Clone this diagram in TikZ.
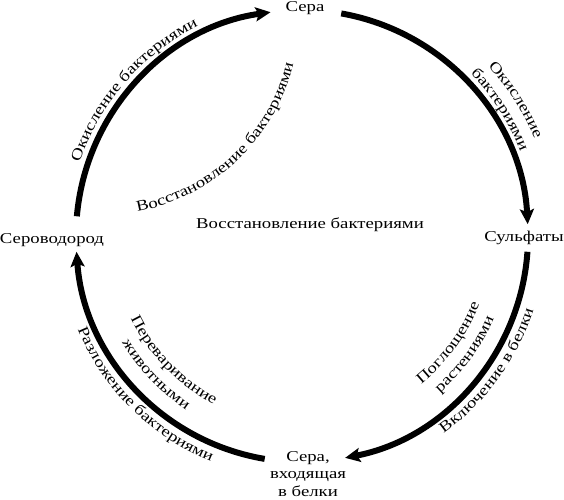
\documentclass[tikz,border=0pt]{standalone}
\usepackage{fontspec}
\setmainfont{Liberation Serif}[FakeStretch=1.25]
\usetikzlibrary{arrows.meta, decorations.text}
\newcommand\lblfont{\fontsize{15}{17.5}\selectfont}

\begin{document}
\begin{tikzpicture}[x=1pt, y=1pt,
    cyc/.style={line width=6pt, -{Stealth[length=15pt, width=14pt, inset=3pt]}},
    lbl/.style={font=\lblfont, inner sep=0pt, align=center},
    ontext/.style={decorate, decoration={text along path, text align=center, text={|\lblfont|#1}}}]
\useasboundingbox (-302,-263) rectangle (262,236);
% Compounds
\node[lbl] (sera) at (3,228) {Сера};
\node[lbl] (sulf) at (222,-2) {Сульфаты};
\node[lbl] (hs) at (-250,-4) {Сероводород};
\node[lbl] (belki) at (6,-238) {Сера,\\входящая\\в белки};
\node[lbl] (vosst) at (8,11) {Восстановление бактериями};
% Ends of the arcs
\coordinate (hsout) at (175:226);
\coordinate (seraout) at (80:226);
\coordinate (sulfout) at (-4:226);
\coordinate (belkiout) at (260.5:226);
\coordinate (vc) at (-201,219);
% Cycle arrows
\draw[cyc] (hsout) arc[start angle=175, end angle=98, radius=226];
\draw[cyc] (seraout) arc[start angle=80, end angle=3, radius=226];
\draw[cyc] (sulfout) arc[start angle=-4, end angle=-79, radius=226];
\draw[cyc] (belkiout) arc[start angle=260.5, end angle=184, radius=226];
% Labels on the arrows
\path[ontext={Окисление бактериями}] (179:234) arc[start angle=179, end angle=99, radius=234];
\path[ontext={бактериями}] (72.5:234) arc[start angle=72.5, end angle=-7.5, radius=234];
\path[ontext={Окисление}] (72.5:252) arc[start angle=72.5, end angle=-7.5, radius=252];
\path[ontext={Поглощение}] (-76:190) arc[start angle=-76, end angle=4, radius=190];
\path[ontext={растениями}] (-76:209) arc[start angle=-76, end angle=4, radius=209];
\path[ontext={Включение в белки}] (-76:243) arc[start angle=-76, end angle=4, radius=243];
\path[ontext={Переваривание}] (184:190) arc[start angle=184, end angle=264, radius=190];
\path[ontext={животными}] (183.4:209) arc[start angle=183.4, end angle=263.4, radius=209];
\path[ontext={Разложение бактериями}] (185.3:243) arc[start angle=185.3, end angle=265.3, radius=243];
\path[ontext={Восстановление бактериями}] (vc) ++(-84:198) arc[start angle=-84, end angle=-9, radius=198];
\end{tikzpicture}
\end{document}
